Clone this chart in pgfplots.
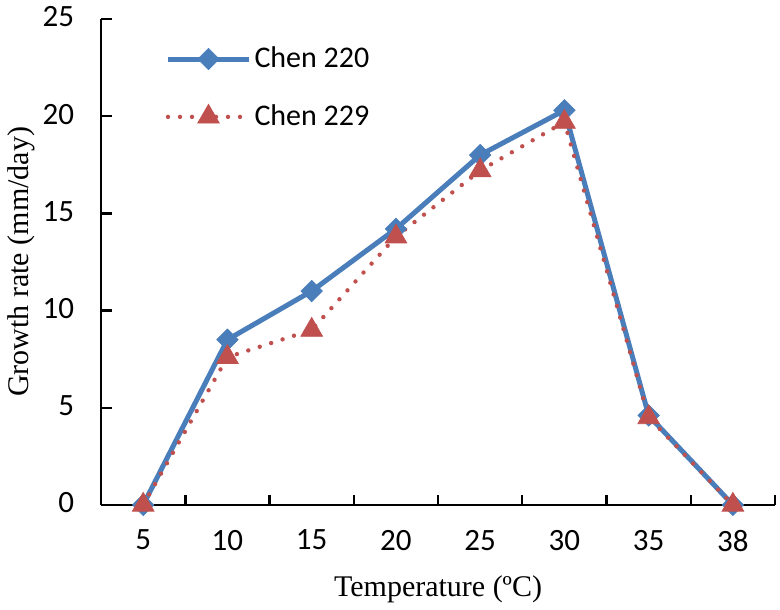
\documentclass[border=0pt]{standalone}
\usepackage{fontspec}
\setmainfont{Carlito}
\newfontfamily\timesfont{Liberation Serif}
\usepackage{pgfplots}
\pgfplotsset{compat=1.18}
\definecolor{cblue}{HTML}{4A7EBB}
\definecolor{cred}{HTML}{C0504D}
\begin{document}
\begin{tikzpicture}
\begin{axis}[
  scale only axis=true,
  width=337pt, height=243pt,
  xmin=-0.5, xmax=7.5, ymin=0, ymax=25,
  axis x line=bottom, axis y line=left,
  axis line style={-, line width=1.2pt, black},
  every tick/.style={black, line width=1.2pt},
  tick align=inside,
  xtick={0,...,7},
  xticklabels={5,10,15,20,25,30,35,38},
  major x tick style={draw=none},
  minor xtick={0.5,1.5,...,7.5},
  minor tick length=5pt,
  ytick={0,5,...,25},
  major tick length=5.3pt,
  /pgf/number format/assume math mode=true,
  tick label style={font=\fontsize{15.5}{17}\selectfont},
  xticklabel style={yshift=-9pt},
  yticklabel style={xshift=-10pt, yshift=1pt},
  xlabel={\timesfont Temperature (ºC)},
  ylabel={\timesfont Growth rate (mm/day)},
  label style={font=\fontsize{15}{17}\selectfont},
  xlabel style={at={(axis description cs:0.5,-0.189)}, anchor=base},
  ylabel style={at={(axis description cs:-0.108,0.5)}, anchor=base},
  clip=false,
  legend style={draw=none, fill=none, inner sep=0pt, at={(0.095,0.949)}, anchor=north west,
    font=\fontsize{15}{16}\selectfont, row sep=14pt,
    nodes={inner sep=1.5pt}},
  legend cell align=left,
  legend image code/.code={\draw[mark repeat=2,mark phase=2,#1] plot coordinates {(0pt,0pt) (20.25pt,0pt) (40.5pt,0pt)};},
]
\path (axis description cs:-0.150,-0.214) rectangle (axis description cs:1.0074,1.039);
\addplot[cblue, line width=2.5pt, mark=square*, mark size=3.8pt, mark options={solid, rotate=45, fill=cblue, line width=0.3pt}]
coordinates {(0,0) (1,8.5) (2,11.0) (3,14.2) (4,18.0) (5,20.3) (6,4.6) (7,0)};
\addlegendentry{Chen 220}
\addplot[cred, line width=2.2pt, line cap=round, dash pattern=on 0pt off 6pt, mark=triangle*, mark size=6.3pt, mark options={solid, fill=cred, line width=0.3pt}]
coordinates {(0,0) (1,7.6) (2,9.0) (3,13.8) (4,17.2) (5,19.7) (6,4.5) (7,0)};
\addlegendentry{Chen 229}
\end{axis}
\end{tikzpicture}
\end{document}
